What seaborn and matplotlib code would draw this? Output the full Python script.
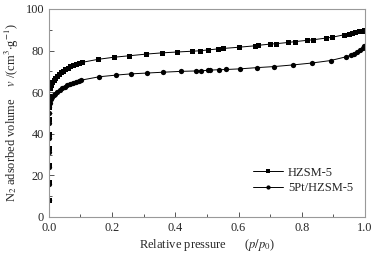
import pandas as pd
import matplotlib.pyplot as plt
import seaborn as sns
from matplotlib.ticker import MultipleLocator

# N2 adsorption isotherms
p_hzsm = [1e-5, 3e-5, 6e-5, 1e-4, 2e-4, 4e-4, 8e-4, 0.0015, 0.003, 0.006, 0.01, 0.015,
          0.02, 0.026, 0.032, 0.038, 0.045, 0.052, 0.06, 0.068, 0.077, 0.086, 0.095, 0.104,
          0.156, 0.206, 0.254, 0.307, 0.358, 0.404, 0.454, 0.478, 0.502, 0.535, 0.55,
          0.60, 0.652, 0.66, 0.699, 0.718, 0.757, 0.778, 0.815, 0.836, 0.876, 0.896,
          0.934, 0.95, 0.96, 0.97, 0.98, 0.99, 0.997]
v_hzsm = [8, 17, 25, 33, 40, 47, 53, 58, 62, 63.5, 64.8, 66,
          67, 68, 68.9, 69.6, 70.4, 71.1, 71.8, 72.4, 73, 73.5, 73.9, 74.3,
          75.8, 76.8, 77.5, 78.3, 78.9, 79.3, 79.7, 79.9, 80.3, 80.8, 81.0,
          81.6, 82.3, 82.5, 83.1, 83.3, 83.9, 84.3, 84.9, 85.2, 86.0, 86.4,
          87.6, 88.1, 88.5, 88.9, 89.3, 89.6, 89.9]

p_pt = [1e-5, 3e-5, 6e-5, 1e-4, 2e-4, 4e-4, 8e-4, 0.0015, 0.003, 0.006, 0.01, 0.015,
        0.02, 0.027, 0.034, 0.042, 0.05, 0.058, 0.067, 0.076, 0.085, 0.094, 0.103,
        0.159, 0.212, 0.26, 0.311, 0.362, 0.417, 0.465, 0.48, 0.503, 0.51, 0.538, 0.56,
        0.604, 0.658, 0.712, 0.772, 0.831, 0.891, 0.94, 0.955, 0.965, 0.975, 0.985,
        0.993, 0.998]
v_pt = [8, 16, 24, 31, 38, 45, 50, 53, 55, 56.5, 57.6, 58.5,
        59.3, 60.3, 61.2, 62, 62.7, 63.3, 63.9, 64.5, 65, 65.4, 65.8,
        67.4, 68.2, 68.8, 69.2, 69.6, 70.0, 70.2, 70.3, 70.5, 70.6, 70.8, 70.9,
        71.2, 71.8, 72.3, 73.1, 74.0, 75.2, 77.0, 77.8, 78.5, 79.3, 80.3,
        81.3, 82.2]

sns.set_style("ticks")
plt.rcParams['font.family'] = ['Liberation Serif', 'DejaVu Serif']
plt.rcParams['mathtext.fontset'] = 'stix'

fig = plt.figure(figsize=(3.79, 2.57), dpi=100)
ax = fig.add_axes([0.129, 0.156, 0.834, 0.809])

sns.lineplot(x=p_hzsm, y=v_hzsm, ax=ax, color='black', marker='s', markersize=3.6,
             markeredgewidth=0, linewidth=0.7, estimator=None, label='HZSM-5')
sns.lineplot(x=p_pt, y=v_pt, ax=ax, color='black', marker='o', markersize=3.8,
             markeredgewidth=0, linewidth=0.7, estimator=None, label='5Pt/HZSM-5')

ax.set_xlim(0, 1.0)
ax.set_ylim(0, 100)
ax.xaxis.set_major_locator(MultipleLocator(0.2))
ax.xaxis.set_minor_locator(MultipleLocator(0.1))
ax.yaxis.set_major_locator(MultipleLocator(20))
ax.yaxis.set_minor_locator(MultipleLocator(10))
ax.tick_params(which='both', direction='in', labelsize=8.8, color='#555555', width=0.7)
ax.tick_params(which='major', length=3.5)
ax.tick_params(which='minor', length=2)
for s in ax.spines.values():
    s.set_color('#999999')
    s.set_linewidth(0.8)

ax.set_xlabel('Relative pressure      ($p/p_0$)', fontsize=9, labelpad=2)
ax.set_ylabel('N$_2$ adsorbed volume    $v$ /(cm$^3$$\\cdot$g$^{-1}$)', fontsize=9, labelpad=3)

ax.legend(loc='center left', bbox_to_anchor=(0.667, 0.298), bbox_transform=fig.transFigure,
          frameon=False, fontsize=9, borderpad=0, borderaxespad=0, markerscale=0.8,
          handlelength=2.4, handletextpad=0.4, labelspacing=0.25)

fig.savefig('out.png', dpi=100)
